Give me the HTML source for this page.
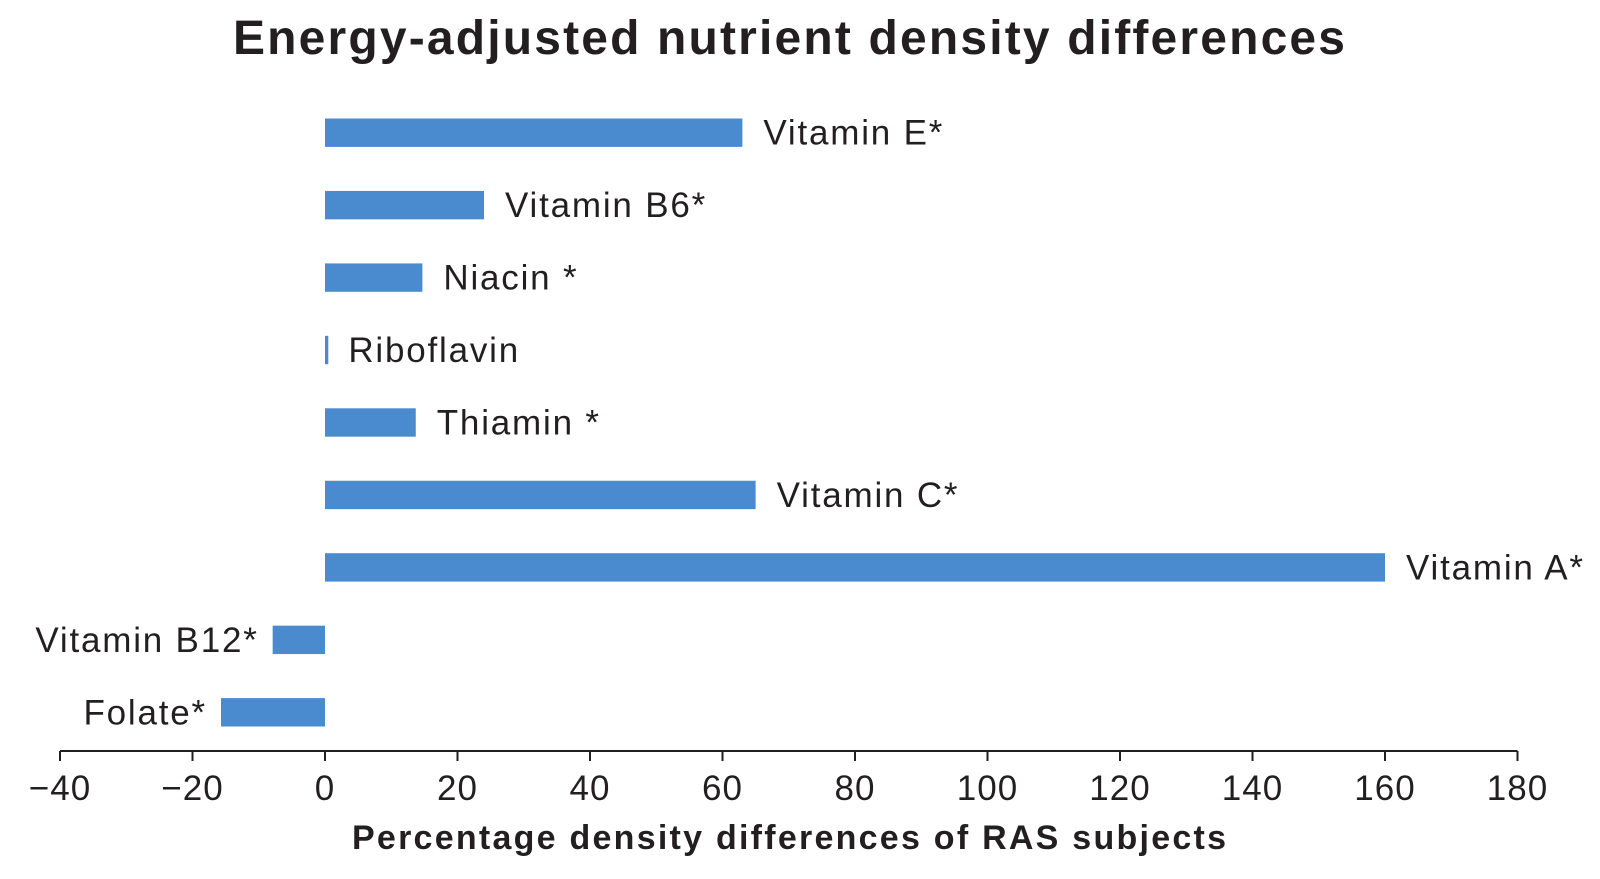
<!DOCTYPE html>
<html><head><meta charset="utf-8"><style>
body{margin:0;background:#fff;}
svg text{font-family:"Liberation Sans",Arial,sans-serif;fill:#231f20;}
</style></head><body>
<svg width="1600" height="874" xmlns="http://www.w3.org/2000/svg">
<text x="789" y="54" font-size="48" font-weight="bold" text-anchor="middle" textLength="1112" lengthAdjust="spacing">Energy-adjusted nutrient density differences</text>
<g id="bars"></g>
<g id="axis"></g>
<text x="789" y="849" font-size="34" font-weight="bold" text-anchor="middle" textLength="874" lengthAdjust="spacing">Percentage density differences of RAS subjects</text>
</svg>
<script>
const categories=["Vitamin E*","Vitamin B6*","Niacin *","Riboflavin","Thiamin *","Vitamin C*","Vitamin A*","Vitamin B12*","Folate*"];
const values=[63,24,14.7,0.5,13.7,65,160,-7.9,-15.7];
const ticks=[-40,-20,0,20,40,60,80,100,120,140,160,180];
const tickLabels=["\u221240","\u221220","0","20","40","60","80","100","120","140","160","180"];
const NS="http://www.w3.org/2000/svg";
function xs(v){return 325+v*6.625;}
function ys(i){return 132.7+i*72.45;}
const bars=document.getElementById('bars');
categories.forEach((c,i)=>{
  const v=values[i];const x0=xs(0),x1=xs(v);
  const r=document.createElementNS(NS,'rect');
  r.setAttribute('x',Math.min(x0,x1));r.setAttribute('y',ys(i)-14.2);
  r.setAttribute('width',Math.max(Math.abs(x1-x0),2.5));r.setAttribute('height',28.4);
  r.setAttribute('fill','#4a8bd0');
  
  
  bars.appendChild(r);
  const t=document.createElementNS(NS,'text');
  t.setAttribute('font-size','35');
  t.setAttribute('letter-spacing','1.8');
  t.setAttribute('y',ys(i)+12);
  if(v>=0){t.setAttribute('x',Math.max(x0,x1)+(v<2?20:21));}
  else{t.setAttribute('x',x1-14);t.setAttribute('text-anchor','end');}
  t.textContent=c;
  
  
  bars.appendChild(t);
});
const ax=document.getElementById('axis');
const l=document.createElementNS(NS,'line');
l.setAttribute('x1',xs(-40));l.setAttribute('x2',xs(180));l.setAttribute('y1',751);l.setAttribute('y2',751);
l.setAttribute('stroke','#231f20');l.setAttribute('stroke-width','2');


ax.appendChild(l);
ticks.forEach((tv,i)=>{
  const tk=document.createElementNS(NS,'line');
  tk.setAttribute('x1',xs(tv));tk.setAttribute('x2',xs(tv));tk.setAttribute('y1',751);tk.setAttribute('y2',761);
  tk.setAttribute('stroke','#231f20');tk.setAttribute('stroke-width','2');
  
  
  ax.appendChild(tk);
  const t=document.createElementNS(NS,'text');
  t.setAttribute('x',xs(tv));t.setAttribute('y',800);t.setAttribute('font-size','35');t.setAttribute('text-anchor','middle');
  t.setAttribute('letter-spacing','1');
  t.textContent=tickLabels[i];
  
  
  ax.appendChild(t);
});
</script>
</body></html>
